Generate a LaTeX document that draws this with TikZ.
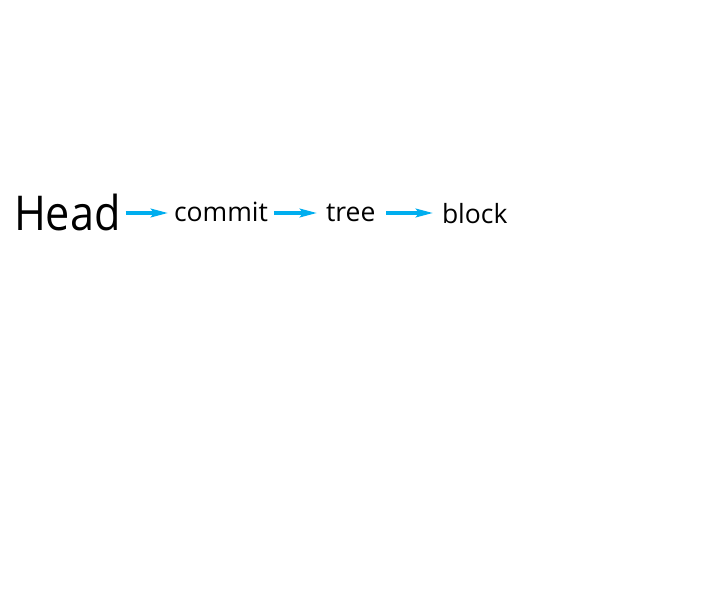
\documentclass[tikz,border=0pt]{standalone}
\usepackage{fontspec}
\setmainfont{Open Sans}
\usetikzlibrary{arrows.meta}
\definecolor{arrowblue}{RGB}{0,174,239}
\tikzset{
  lbl/.style={anchor=base west, inner sep=0pt, outer sep=0pt, text=black},
  big/.style={font=\fontsize{48}{58}\selectfont},
  small/.style={font=\fontsize{26.5}{31}\selectfont},
  conn/.style={draw=arrowblue, line width=3.4pt, -{Stealth[length=17pt,width=8.5pt,inset=3pt]}}
}
\begin{document}
\begin{tikzpicture}[x=1pt,y=-1pt]
\useasboundingbox[fill=white] (0,0) rectangle (710,599);
\node[lbl,big] (head) at (14,230) {\scalebox{0.9}[1]{Head}};
\node[lbl,small] (commit) at (174,222) {commit};
\node[lbl,small] (tree) at (326,222) {tree};
\node[lbl,small] (block) at (442,223) {block};
\draw[conn, shorten <=5pt, shorten >=6pt] ([yshift=-1pt]head.east) -- ([yshift=-1pt]head.east -| commit.west);
\draw[conn, shorten <=6pt, shorten >=9pt] ([yshift=-1pt]head.east -| commit.east) -- ([yshift=-1pt]head.east -| tree.west);
\draw[conn, shorten <=11pt, shorten >=9pt] ([yshift=-1pt]head.east -| tree.east) -- ([yshift=-1pt]head.east -| block.west);
\end{tikzpicture}
\end{document}
